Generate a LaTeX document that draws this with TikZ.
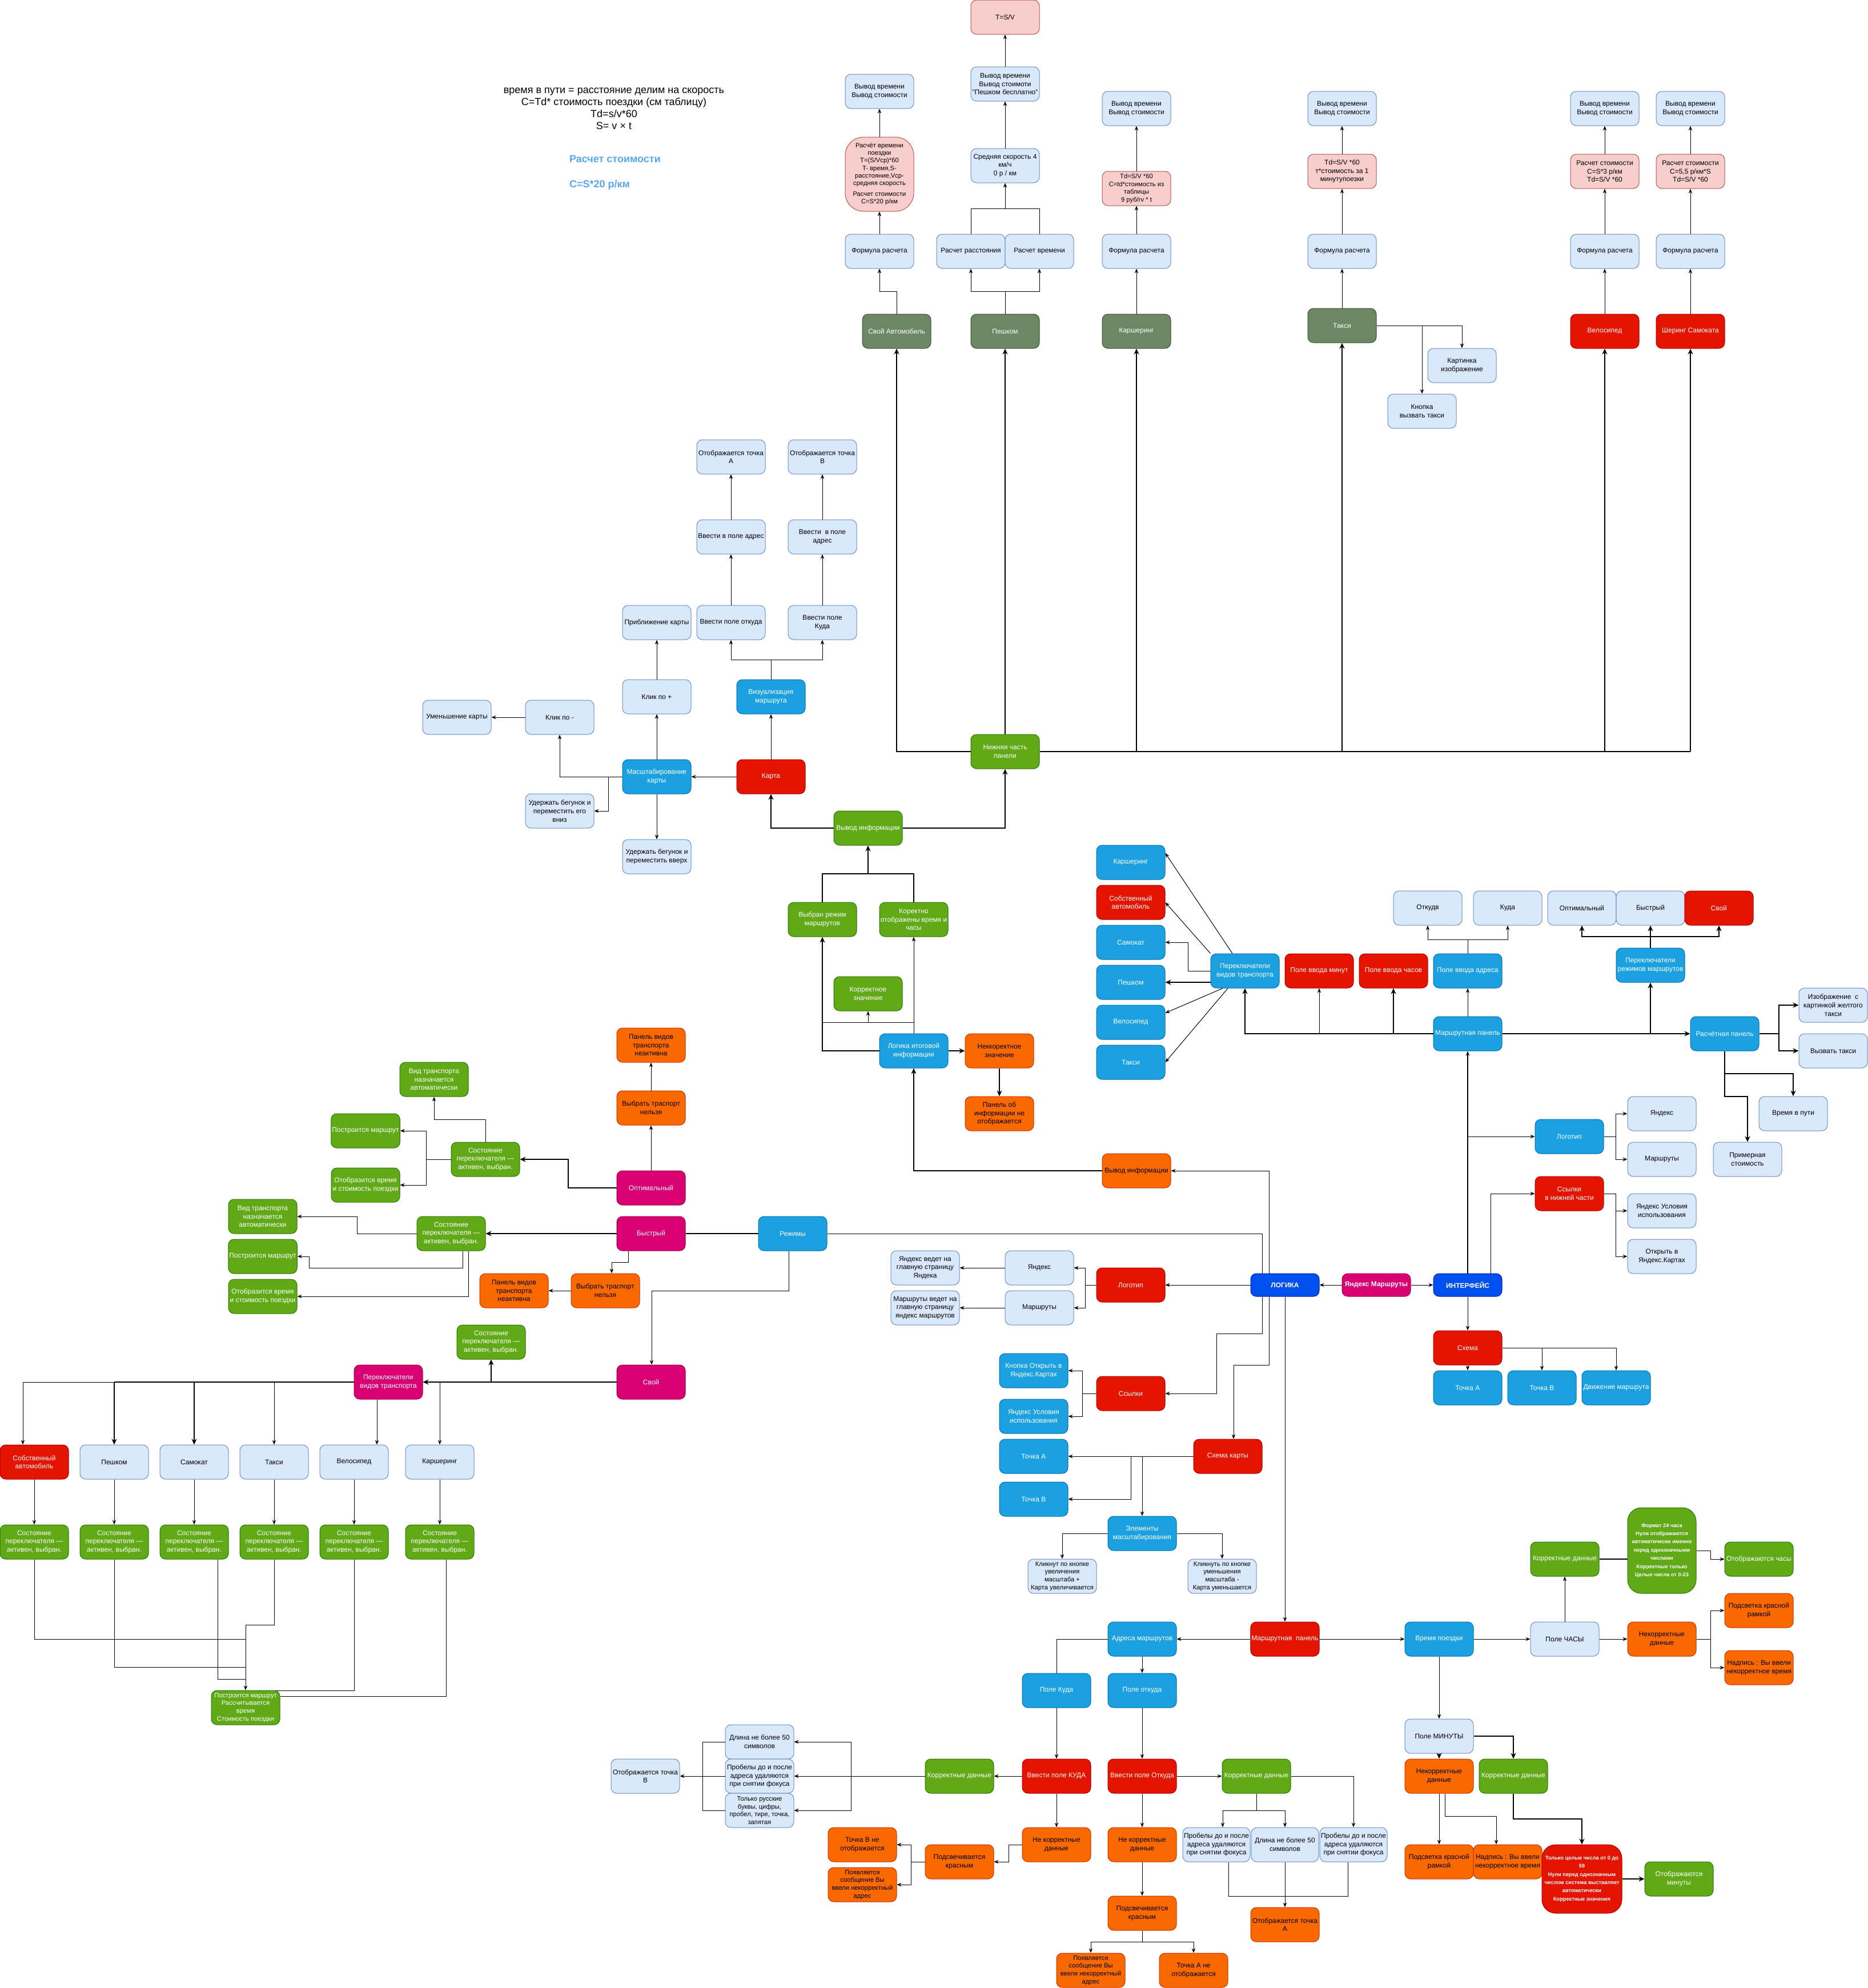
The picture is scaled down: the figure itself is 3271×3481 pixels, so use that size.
\documentclass[tikz,border=0pt]{standalone}
\usepackage{fontspec}
\setmainfont{Liberation Sans}
\usetikzlibrary{arrows.meta}
\definecolor{lbF}{HTML}{DAE8FC}\definecolor{lbD}{HTML}{6C8EBF}
\definecolor{pkF}{HTML}{F8CECC}\definecolor{pkD}{HTML}{B85450}
\definecolor{olF}{HTML}{6D8764}\definecolor{olD}{HTML}{3A5431}
\definecolor{rdF}{HTML}{E51400}\definecolor{rdD}{HTML}{B20000}
\definecolor{blF}{HTML}{1BA1E2}\definecolor{blD}{HTML}{006EAF}
\definecolor{grF}{HTML}{60A917}\definecolor{grD}{HTML}{2D7600}
\definecolor{orF}{HTML}{FA6800}\definecolor{orD}{HTML}{C73500}
\definecolor{mgF}{HTML}{D80073}\definecolor{mgD}{HTML}{A50040}
\definecolor{cbF}{HTML}{0050EF}\definecolor{cbD}{HTML}{001DBC}
\definecolor{txtBlue}{HTML}{5AA7F0}
\tikzset{
 bx/.style={rectangle, rounded corners=5pt, minimum width=60pt, minimum height=30pt, inner sep=0.8pt, align=center, font=\fontsize{6}{7.4}\selectfont, line width=0.5pt},
 sm/.style={font=\fontsize{5.6}{6.8}\selectfont},
 lb/.style={bx, fill=lbF, draw=lbD, text=black},
 pk/.style={bx, fill=pkF, draw=pkD, text=black},
 ol/.style={bx, fill=olF, draw=olD, text=white},
 rd/.style={bx, fill=rdF, draw=rdD, text=white},
 bl/.style={bx, fill=blF, draw=blD, text=white},
 gr/.style={bx, fill=grF, draw=grD, text=white},
 og/.style={bx, fill=orF, draw=orD, text=black},
 mg/.style={bx, fill=mgF, draw=mgD, text=white},
 cb/.style={bx, fill=cbF, draw=cbD, text=white, minimum height=20pt, font=\fontsize{6}{7.4}\selectfont\bfseries},
 ln/.style={draw=black, line width=0.5pt},
 ar/.style={ln, -{Stealth[length=4pt,width=3.2pt]}},
 tk/.style={draw=black, line width=1pt},
 tar/.style={tk, -{Stealth[length=5pt,width=4.5pt]}},
}
\begin{document}
\begin{tikzpicture}[x=0.5pt,y=-0.5pt]
\fill[white] (0,0) rectangle (3271,3481);
\useasboundingbox (0,0) rectangle (3271,3481);

% ---------- free text ----------
\node[align=center, font=\fontsize{9}{10.5}\selectfont] (note) at (1075,190) {время в пути = расстояние делим на скорость\\C=Td* стоимость поездки (см таблицу)\\Td=s/v*60\\S= v × t};
\node[anchor=west, text=txtBlue, font=\fontsize{9}{10}\selectfont\bfseries] (noteA) at (990,278) {Расчет стоимости};
\node[anchor=west, text=txtBlue, font=\fontsize{9}{10}\selectfont\bfseries] (noteB) at (990,324) {C=S*20 р/км};

% ---------- top transport columns ----------
\node[pk] (tsv) at (1760,30) {T=S/V};
\node[lb] (outWalk) at (1760,147) {Вывод времени\\Вывод стоимоти\\"Пешком бесплатно"};
\node[lb] (avg) at (1760,290) {Средняя скорость 4\\км/ч\\0 р / км};
\node[lb] (calcDist) at (1700,440) {Расчет расстояния};
\node[lb] (calcTime) at (1820,440) {Расчет времени};
\node[ol] (walk) at (1760,580) {Пешком};

\node[lb] (outCar) at (1540,160) {Вывод времени\\Вывод стоимости};
\node[pk, minimum height=65pt, rounded corners=16pt, font=\fontsize{5.6}{6.6}\selectfont] (calcCar) at (1540,305) {Расчёт времени\\поездки\\T=(S/Vср)*60\\T- время,S-\\расстояние,Vср-\\средняя скорость\\[3pt]Расчет стоимости\\C=S*20 р/км};
\node[lb] (fCar) at (1540,440) {Формула расчета};
\node[ol] (car) at (1570,580) {Свой Автомобиль};

\node[lb] (outKsh) at (1990,190) {Вывод времени\\Вывод стоимости};
\node[pk, sm] (calcKsh) at (1990,330) {Td=S/V *60\\C=td*стоимость из\\таблицы\\9 руб/rv * t};
\node[lb] (fKsh) at (1990,440) {Формула расчета};
\node[ol] (ksh) at (1990,580) {Каршеринг};

\node[lb] (outTaxi) at (2350,190) {Вывод времени\\Вывод стоимости};
\node[pk] (calcTaxi) at (2350,300) {Td=S/V *60\\т*стоимость за 1\\минутупоезки};
\node[lb] (fTaxi) at (2350,440) {Формула расчета};
\node[ol] (taxi) at (2350,570) {Такси};
\node[lb] (pic) at (2560,640) {Картинка\\изображение};
\node[lb] (btnTaxi) at (2490,720) {Кнопка\\вызвать такси};

\node[lb] (outBike) at (2810,190) {Вывод времени\\Вывод стоимости};
\node[pk] (calcBike) at (2810,300) {Расчет стоимости\\C=S*3 р/км\\Td=S/V *60};
\node[lb] (fBike) at (2810,440) {Формула расчета};
\node[rd] (bike) at (2810,580) {Велосипед};

\node[lb] (outSc) at (2960,190) {Вывод времени\\Вывод стоимости};
\node[pk] (calcSc) at (2960,300) {Расчет стоимости\\C=5,5 р/км*S\\Td=S/V *60};
\node[lb] (fSc) at (2960,440) {Формула расчета};
\node[rd] (sc) at (2960,580) {Шеринг Самоката};

% ---------- map ----------
\node[lb] (ptA) at (1280,800) {Отображается точка\\А};
\node[lb] (ptB) at (1440,800) {Отображается точка\\В};
\node[lb] (inA) at (1280,940) {Ввести в поле адрес};
\node[lb] (inB) at (1440,940) {Ввести \ в поле\\адрес};
\node[lb] (zoomIn) at (1150,1090) {Приближение карты};
\node[lb] (fromF) at (1280,1090) {Ввести поле откуда};
\node[lb] (toF) at (1440,1090) {Ввести поле\\Куда};
\node[lb] (clickPlus) at (1150,1220) {Клик по +};
\node[bl] (vis) at (1350,1220) {Визуализация\\маршрута};
\node[lb] (zoomOut) at (800,1256) {Уменьшение карты};
\node[lb] (clickMinus) at (980,1256) {Клик по -};
\node[bl] (scale) at (1150,1360) {Масштабирование\\карты};
\node[rd] (map) at (1350,1360) {Карта};
\node[lb] (holdDown) at (980,1420) {Удержать бегунок и\\переместить его\\вниз};
\node[lb] (holdUp) at (1150,1500) {Удержать бегунок и\\переместить вверх};
\node[gr] (bottomPanel) at (1760,1316) {Нижняя часть\\панели};
\node[gr] (infoOut) at (1520,1450) {Вывод информации};

% ---------- info logic ----------
\node[gr] (modeSel) at (1440,1610) {Выбран режим\\маршрутов};
\node[gr] (okTime) at (1600,1610) {Коректно\\отображены время и\\часы};
\node[gr] (okVal) at (1520,1740) {Корректное\\значение};
\node[bl] (logicInfo) at (1600,1840) {Логика итоговой\\информации};
\node[og] (badVal) at (1750,1840) {Неккоректное\\значение};
\node[og] (noPanel) at (1750,1950) {Панель об\\информации не\\отображается};
\node[og] (infoOut2) at (1990,2050) {Вывод информации};

% ---------- modes ----------
\node[og] (panelInact1) at (1140,1830) {Панель видов\\транспорта\\неактивна};
\node[og] (noChoose1) at (1140,1940) {Выбрать траспорт\\нельзя};
\node[mg] (opt) at (1140,2080) {Оптимальный};
\node[gr] (st1) at (850,2030) {Состояние\\переключателя —\\активен, выбран.};
\node[gr] (auto1) at (760,1890) {Вид транспорта\\назначается\\автоматически};
\node[gr] (route1) at (640,1980) {Построится маршрут};
\node[gr] (time1) at (640,2075) {Отобразится время\\и стоимость поездки};
\node[mg] (fast) at (1140,2160) {Быстрый};
\node[bl] (modes) at (1388,2160) {Режимы};
\node[gr] (st2) at (790,2160) {Состояние\\переключателя —\\активен, выбран.};
\node[gr] (auto2) at (460,2130) {Вид транспорта\\назначается\\автоматически};
\node[gr] (route2) at (460,2200) {Построится маршрут};
\node[gr] (time2) at (460,2270) {Отобразится время\\и стоимость поездки};
\node[og] (noChoose2) at (1060,2260) {Выбрать траспорт\\нельзя};
\node[og] (panelInact2) at (900,2260) {Панель видов\\транспорта\\неактивна};
\node[mg] (own) at (1140,2420) {Свой};
\node[gr] (st3) at (860,2350) {Состояние\\переключателя —\\активен, выбран.};
\node[mg] (sw) at (680,2420) {Переключатели\\видов транспорта};

\node[rd] (r1a) at (60,2560) {Собственный\\автомобиль};
\node[lb] (r1b) at (200,2560) {Пешком};
\node[lb] (r1c) at (340,2560) {Самокат};
\node[lb] (r1d) at (480,2560) {Такси};
\node[lb] (r1e) at (620,2560) {Велосипед};
\node[lb] (r1f) at (770,2560) {Каршеринг};
\node[gr] (r2a) at (60,2700) {Состояние\\переключателя —\\активен, выбран.};
\node[gr] (r2b) at (200,2700) {Состояние\\переключателя —\\активен, выбран.};
\node[gr] (r2c) at (340,2700) {Состояние\\переключателя —\\активен, выбран.};
\node[gr] (r2d) at (480,2700) {Состояние\\переключателя —\\активен, выбран.};
\node[gr] (r2e) at (620,2700) {Состояние\\переключателя —\\активен, выбран.};
\node[gr] (r2f) at (770,2700) {Состояние\\переключателя —\\активен, выбран.};
\node[gr, sm] (build) at (430,2990) {Построится маршрут\\Рассчитывается\\время\\Стоимость поездки};

% ---------- logic ----------
\node[cb] (logic) at (2250,2250) {ЛОГИКА};
\node[mg, minimum height=20pt, font=\fontsize{6}{7.4}\selectfont\bfseries] (ym) at (2410,2250) {Яндекс Маршруты};
\node[cb] (iface) at (2570,2250) {ИНТЕРФЕЙС};
\node[rd] (logo) at (1980,2250) {Логотип};
\node[lb] (yx) at (1820,2220) {Яндекс};
\node[lb] (mr) at (1820,2290) {Маршруты};
\node[lb] (yxTo) at (1620,2220) {Яндекс ведет на\\главную страницу\\Яндека};
\node[lb] (mrTo) at (1620,2290) {Маршруты ведет на\\главную страницу\\яндекс маршрутов};
\node[rd] (links) at (1980,2440) {Ссылки};
\node[bl] (openYM) at (1810,2400) {Кнопка Открыть в\\Яндекс.Картах};
\node[bl] (terms) at (1810,2480) {Яндекс Условия\\использования};
\node[bl] (ptA2) at (1810,2550) {Точка А};
\node[bl] (ptB2) at (1810,2625) {Точка В};
\node[rd] (mapScheme) at (2150,2550) {Схема карты};
\node[bl] (scaleEl) at (2000,2685) {Элементы\\масштабирования};
\node[lb, sm] (plus) at (1860,2760) {Кликнут по кнопке\\увеличения\\масштаба +\\Карта увеличивается};
\node[lb, sm] (minus) at (2140,2760) {Кликнуть по кнопке\\уменьшения\\масштаба -\\Карта уменьшается};
\node[rd] (scheme) at (2570,2360) {Схема};
\node[bl] (sA) at (2570,2430) {Точка А};
\node[bl] (sB) at (2700,2430) {Точка В};
\node[bl] (sMove) at (2830,2430) {Движение маршрута};

% ---------- interface ----------
\node[bl] (routePanel) at (2570,1810) {Маршрутная панель};
\node[bl] (calcPanel) at (3020,1810) {Расчётная панель};
\node[bl] (addrF) at (2570,1700) {Поле ввода адреса};
\node[rd] (hourF) at (2440,1700) {Поле ввода часов};
\node[rd] (minF) at (2310,1700) {Поле ввода минут};
\node[bl] (swT) at (2180,1700) {Переключатели\\видов транспорта};
\node[lb] (iFrom) at (2500,1590) {Откудв};
\node[lb] (iTo) at (2640,1590) {Куда};
\node[lb] (iOpt) at (2770,1590) {Оптимальный};
\node[lb] (iFast) at (2890,1590) {Быстрый};
\node[rd] (iOwn) at (3010,1590) {Свой};
\node[bl] (swM) at (2890,1690) {Переключатели\\режимов маршрутов};
\node[bl] (tKsh) at (1980,1510) {Каршеринг};
\node[rd] (tCar) at (1980,1580) {Собственный\\автомобиль};
\node[bl] (tSc) at (1980,1650) {Самокат};
\node[bl] (tWalk) at (1980,1720) {Пешком};
\node[bl] (tBike) at (1980,1790) {Велосипед};
\node[bl] (tTaxi) at (1980,1860) {Такси};
\node[lb] (yTaxi) at (3210,1760) {Изображение \ с\\картинкой желтого\\такси};
\node[lb] (callTaxi) at (3210,1840) {Вызвать такси};
\node[lb] (tripTime) at (3140,1950) {Время в пути};
\node[lb] (approx) at (3060,2030) {Примерная\\стоимость};
\node[bl] (iLogo) at (2748,1990) {Логотип};
\node[lb] (iYx) at (2910,1950) {Яндекс};
\node[lb] (iMr) at (2910,2030) {Маршруты};
\node[rd] (iLinks) at (2748,2090) {Ссылки\\в нижней части};
\node[lb] (iTerms) at (2910,2120) {Яндекс Условия\\использования};
\node[lb] (iOpen) at (2910,2200) {Открыть в\\Яндекс.Картах};

% ---------- route panel (bottom) ----------
\node[rd] (rp) at (2250,2870) {Маршрутная \ панель};
\node[bl] (addr) at (2000,2870) {Адреса маршрутов};
\node[bl] (fTo) at (1850,2960) {Поле Куда};
\node[bl] (fFrom) at (2000,2960) {Поле откуда};
\node[rd] (eTo) at (1850,3110) {Ввести поле КУДА};
\node[rd] (eFrom) at (2000,3110) {Ввести поле Откуда};
\node[gr] (okL) at (1680,3110) {Корректные данные};
\node[gr] (okR) at (2200,3110) {Корректные данные};
\node[lb] (len1) at (1330,3050) {Длина не более 50\\символов};
\node[lb] (sp1) at (1330,3110) {Пробелы до и после\\адреса удаляются\\при снятии фокуса};
\node[lb, sm] (rus) at (1330,3170) {Только русские\\буквы, цифры,\\пробел, тире, точка,\\запятая};
\node[lb] (showB) at (1130,3110) {Отображается точка\\В};
\node[og] (badL) at (1850,3230) {Не корректные\\данные};
\node[og] (badR) at (2000,3230) {Не корректные\\данные};
\node[og] (hlL) at (1680,3260) {Подсвечивается\\красным};
\node[og] (noB) at (1510,3230) {Точка В не\\отображается};
\node[og, sm] (msgL) at (1510,3300) {Появляется\\сообщение Вы\\ввели некорректный\\адрес};
\node[og] (hlC) at (2000,3350) {Подсвечивается\\красным};
\node[og, sm] (msgC) at (1910,3450) {Появляется\\сообщение Вы\\ввели некорректный\\адрес};
\node[og] (noA) at (2090,3450) {Точка А не\\отображается};
\node[lb, minimum width=59pt] (sp2) at (2130,3230) {Пробелы до и после\\адреса удаляются\\при снятии фокуса};
\node[lb, minimum width=59pt] (len2) at (2250,3230) {Длина не более 50\\символов};
\node[lb, minimum width=59pt] (sp3) at (2370,3230) {Пробелы до и после\\адреса удаляются\\при снятии фокуса};
\node[og] (showA) at (2250,3370) {Отображается точка\\А};

% ---------- trip time ----------
\node[bl] (tripT) at (2520,2870) {Время поездки};
\node[lb] (hoursF) at (2740,2870) {Поле ЧАСЫ};
\node[og] (badH) at (2910,2870) {Некорректные\\данные};
\node[og] (hlH) at (3080,2820) {Подсветка красной\\рамкой};
\node[og] (msgH) at (3080,2920) {Надпись : Вы ввели\\некорректное время};
\node[gr] (okH) at (2740,2730) {Корректные данные};
\node[gr, minimum height=75pt, rounded corners=12pt, font=\fontsize{4.6}{7.2}\selectfont\bfseries] (fmt) at (2910,2715) {Формат 24 часа\\Нули отображаются\\автоматически именно\\перед однозначными\\числами\\Корректные только\\Целые числа от 0-23};
\node[gr] (showH) at (3080,2730) {Отображаются часы};
\node[lb] (minF2) at (2520,3040) {Поле МИНУТЫ};
\node[og] (badM) at (2520,3110) {Некорректные\\данные};
\node[gr] (okM) at (2650,3110) {Корректные данные};
\node[og] (hlM) at (2520,3260) {Подсветка красной\\рамкой};
\node[og] (msgM) at (2640,3260) {Надпись : Вы ввели\\некорректное время};
\node[rd, minimum width=70pt, minimum height=60pt, rounded corners=12pt, font=\fontsize{4.6}{7.2}\selectfont\bfseries] (only) at (2770,3290) {Только целые числа от 0 до\\59\\Нули перед однозначным\\числом система выставляет\\автоматически\\Корректные значения};
\node[gr] (showM) at (2940,3290) {Отображаются\\минуты};

% ================= CONNECTORS =================
% top columns
\draw[ar] (car.north) -- (car.north |- 0,510) -| (fCar.south);
\draw[ar] (fCar) -- (calcCar);
\draw[ar] (calcCar) -- (outCar);
\draw[ar] (walk.north) -- (walk.north |- 0,510) -| (calcDist.south);
\draw[ar] (walk.north |- 0,510) -| (calcTime.south);
\draw[ln] (calcDist.north) -- (calcDist.north |- 0,365) -- (calcTime.north |- 0,365) -- (calcTime.north);
\draw[ar] (avg.south |- 0,365) -- (avg.south);
\draw[ar] (avg) -- (outWalk);
\draw[ar] (outWalk) -- (tsv);
\draw[ar] (ksh) -- (fKsh); \draw[ar] (fKsh) -- (calcKsh); \draw[ar] (calcKsh) -- (outKsh);
\draw[ar] (taxi) -- (fTaxi); \draw[ar] (fTaxi) -- (calcTaxi); \draw[ar] (calcTaxi) -- (outTaxi);
\draw[ar] (taxi.east) -| (pic.north);
\draw[ar] (taxi.east -| btnTaxi.north) -- (btnTaxi.north);
\draw[ar] (bike) -- (fBike); \draw[ar] (fBike) -- (calcBike); \draw[ar] (calcBike) -- (outBike);
\draw[ar] (sc) -- (fSc); \draw[ar] (fSc) -- (calcSc); \draw[ar] (calcSc) -- (outSc);

% bottom panel
\draw[tar] (bottomPanel.west) -| (car.south);
\draw[tar] (bottomPanel.north) -- (walk.south);
\draw[tk] (bottomPanel.east) -- (bottomPanel.east -| sc.south);
\draw[tar] (bottomPanel.east -| ksh.south) -- (ksh.south);
\draw[tar] (bottomPanel.east -| taxi.south) -- (taxi.south);
\draw[tar] (bottomPanel.east -| bike.south) -- (bike.south);
\draw[tar] (bottomPanel.east -| sc.south) -- (sc.south);

% map
\draw[ar] (map.west) -- (scale.east);
\draw[ar] (map.north) -- (vis.south);
\draw[ar] (vis.north) -- (vis.north |- 0,1155) -| (fromF.south);
\draw[ar] (vis.north |- 0,1155) -| (toF.south);
\draw[ar] (fromF) -- (inA); \draw[ar] (inA) -- (ptA);
\draw[ar] (toF) -- (inB); \draw[ar] (inB) -- (ptB);
\draw[ar] (scale) -- (clickPlus); \draw[ar] (clickPlus) -- (zoomIn);
\draw[ar] (scale) -- (holdUp);
\draw[ar] (clickMinus) -- (zoomOut);
\draw[ar] (scale.west) -| (clickMinus.south);
\draw[ar] (scale.west -| 1065,0) |- (holdDown.east);
\draw[tar] (infoOut.west) -| (map.south);
\draw[tar] (infoOut.east) -| (bottomPanel.south);
\draw[tar] (infoOut.south |- 0,1530) -- (infoOut.south);
\draw[tk] (modeSel.north) -- (modeSel.north |- 0,1530) -- (okTime.north |- 0,1530) -- (okTime.north);

% info logic
\draw[tar] (logicInfo.west) -| (modeSel.south);
\draw[ar] (logicInfo.north) -- (okTime.south);
\draw[ln] (modeSel.south |- 0,1790) -- (okTime.south |- 0,1790);
\draw[ar] (okVal.south |- 0,1790) -- (okVal.south);
\draw[tar] (logicInfo.east) -- (badVal.west);
\draw[tar] (badVal.south) -- (noPanel.north);
\draw[tar] (infoOut2.west) -| (logicInfo.south);
\draw[ar] (logic.north -| 2222,0) |- (infoOut2.east);
\draw[ln] (logic.north -| 2210,0) |- (modes.east);

% modes
\draw[ar] (opt) -- (noChoose1);
\draw[ar] (noChoose1) -- (panelInact1);
\draw[tar] (opt.west) -- (opt.west -| 995,0) |- (st1.east);
\draw[ar] (st1.north) -- (st1.north |- 0,1960) -| (auto1.south);
\draw[ar] (st1.west) -- (st1.west -| 746,0) |- (route1.east);
\draw[ar] (st1.west -| 746,0) |- (time1.east);
\draw[tk] (modes.west) -- (fast.east);
\draw[tar] (fast.west) -- (st2.east);
\draw[ar] (st2.west) -- (st2.west -| 625,0) |- (auto2.east);
\draw[ar] (st2.south -| 810,0) -- (810,2220) -- (541,2220) -- (541,2200) -- (route2.east);
\draw[ar] (st2.south -| 820,0) |- (time2.east);
\draw[ar] (fast.south -| 1100,0) -- (1100,2210) -- (1071,2210) -- (noChoose2.north -| 1071,0);
\draw[ar] (noChoose2) -- (panelInact2);
\draw[ar] (modes.south -| 1381,0) -- (1381,2260) -- (1141,2260) -- (own.north -| 1141,0);
\draw[tar] (own.west) -- (sw.east);
\draw[tar] (own.west -| st3.south) -- (st3.south);

% bottom-left switches
\draw[tk] (sw.west) -- (sw.west -| r1b.north);
\draw[ln] (sw.west -| r1b.north) -- (sw.west -| 40,0);
\draw[ar] (sw.west -| 40,0) -- (r1a.north -| 40,0);
\draw[tar] (sw.west -| r1b.north) -- (r1b.north);
\draw[tar] (sw.west -| r1c.north) -- (r1c.north);
\draw[ar] (sw.west -| r1d.north) -- (r1d.north);
\draw[ar] (sw.south -| 660,0) -- (r1e.north -| 660,0);
\draw[ar] (own.west -| r1f.north) -- (r1f.north);
\draw[ar] (r1a) -- (r2a); \draw[ar] (r1b) -- (r2b); \draw[ar] (r1c) -- (r2c);
\draw[ar] (r1d) -- (r2d); \draw[ar] (r1e) -- (r2e); \draw[ar] (r1f) -- (r2f);
\draw[ln] (r2a.south) |- (build.north |- 0,2870);
\draw[ln] (r2b.south) |- (build.north |- 0,2919);
\draw[ln] (r2c.south -| 381,0) |- (build.north |- 0,2940);
\draw[ln] (r2d.south) |- (build.north |- 0,2845);
\draw[ar] (build.north |- 0,2845) -- (build.north);
\draw[ln] (r2e.south) |- (482,2960);
\draw[ln] (r2f.south -| 781,0) |- (build.east |- 0,2970);

% logic
\draw[ar] (ym.west) -- (logic.east);
\draw[ar] (ym.east) -- (iface.west);
\draw[ar] (logic.west) -- (logo.east);
\draw[ar] (logo.west) -- (logo.west -| 1900,0) |- (yx.east);
\draw[ar] (logo.west -| 1900,0) |- (mr.east);
\draw[ar] (yx) -- (yxTo);
\draw[ar] (mr) -- (mrTo);
\draw[ar] (logic.south -| 2210,0) -- (2210,2335) -- (2130,2335) |- (links.east);
\draw[ar] (logic.south -| 2222,0) -- (2222,2390) -- (2160,2390) -- (mapScheme.north -| 2160,0);
\draw[ar] (logic.south) -- (rp.north);
\draw[ar] (links.west) -- (links.west -| 1895,0) |- (openYM.east);
\draw[ar] (links.west -| 1895,0) |- (terms.east);
\draw[ar] (mapScheme.west) -- (ptA2.east);
\draw[ar] (mapScheme.west -| 1980,0) |- (ptB2.east);
\draw[ar] (mapScheme.west -| 2000,0) -- (scaleEl.north);
\draw[ar] (scaleEl.west) -| (plus.north);
\draw[ar] (scaleEl.east) -| (minus.north);

% interface
\draw[ar] (iface.south) -- (scheme.north);
\draw[ar] (scheme.south) -- (sA.north);
\draw[ar] (scheme.east) -| (sMove.north);
\draw[ar] (scheme.east -| sB.north) -- (sB.north);
\draw[ar, line width=0.75pt] (iface.north) -- (routePanel.south);
\draw[ar] (iface.north |- iLogo.west) -- (iLogo.west);
\draw[ar] (iface.north -| 2610,0) |- (iLinks.west);
\draw[ar] (iLogo.east) -- (iLogo.east -| 2829,0) |- (iYx.west);
\draw[ar] (iLogo.east -| 2829,0) |- (iMr.west);
\draw[ar] (iLinks.east) -- (iLinks.east -| 2829,0) |- (iTerms.west);
\draw[ar] (iLinks.east -| 2829,0) |- (iOpen.west);
\draw[tar] (routePanel.west) -| (swT.south);
\draw[ar] (routePanel.west -| minF.south) -- (minF.south);
\draw[tar] (routePanel.west -| hourF.south) -- (hourF.south);
\draw[ar] (routePanel.north) -- (addrF.south);
\draw[ar] (addrF.north) -- (addrF.north |- 0,1645) -| (iFrom.south);
\draw[ar] (addrF.north |- 0,1645) -| (iTo.south);
\draw[tar] (routePanel.east) -- (calcPanel.west);
\draw[tar] (routePanel.east -| swM.south) -- (swM.south);
\draw[tar] (swM.north) -- (iFast.south);
\draw[tar] (swM.north |- 0,1640) -| (iOpt.south);
\draw[tar] (swM.north |- 0,1640) -| (iOwn.south);
\draw[tar] (calcPanel.east) -- (calcPanel.east -| 3115,0) |- (yTaxi.west);
\draw[tar] (calcPanel.east -| 3115,0) |- (callTaxi.west);
\draw[tar] (calcPanel.south) -- (calcPanel.south |- 0,1880) -| (tripTime.north);
\draw[tar] (calcPanel.south |- 0,1880) -- (calcPanel.south |- 0,1920) -| (approx.north);
\draw[ar] (swT.north -| 2158,0) -- (tKsh.15);
\draw[ar] (swT.north west) -- (tCar.east);
\draw[ar] (swT.west) -- (swT.west -| 2080,0) |- (tSc.east);
\draw[tar] (swT.west |- tWalk.east) -- (tWalk.east);
\draw[ar] (swT.south -| 2141,0) -- (tBike.15);
\draw[ar] (swT.south -| 2150,0) -- (tTaxi.east);

% route panel bottom
\draw[ar] (rp.west) -- (addr.east);
\draw[ar] (rp.east) -- (tripT.west);
\draw[ln] (addr.west) -| (fTo.north);
\draw[ar] (addr.south) -- (fFrom.north);
\draw[ar] (fTo) -- (eTo);
\draw[ar] (fFrom) -- (eFrom);
\draw[ar] (eTo.west) -- (okL.east);
\draw[ar] (eFrom.east) -- (okR.west);
\draw[ar] (okL.west) -- (sp1.east);
\draw[ar] (okL.west -| 1490,0) |- (len1.east);
\draw[ar] (okL.west -| 1490,0) |- (rus.east);
\draw[ln] (len1.west) -- (len1.west -| 1230,0) -- (rus.west -| 1230,0) -- (rus.west);
\draw[ar] (sp1.west) -- (showB.east);
\draw[ar] (eTo) -- (badL);
\draw[ar] (eFrom) -- (badR);
\draw[ar] (badL.west) -- (badL.west -| 1766,0) |- (hlL.east);
\draw[ar] (hlL.west) -- (hlL.west -| 1595,0) |- (noB.east);
\draw[ar] (hlL.west -| 1595,0) |- (msgL.east);
\draw[ar] (badR) -- (hlC);
\draw[ar] (hlC.south) -- (hlC.south |- 0,3400) -| (msgC.north);
\draw[ar] (hlC.south |- 0,3400) -| (noA.north);
\draw[ar] (okR.south) -- (okR.south |- 0,3170) -- (2141,3170) -- (sp2.north -| 2141,0);
\draw[ar] (okR.south |- 0,3170) -| (len2.north);
\draw[ar] (okR.east) -| (sp3.north);
\draw[ln] (sp2.south -| 2151,0) -- (2151,3320) -- (2360,3320) -- (sp3.south -| 2360,0);
\draw[ar] (len2) -- (showA);

% trip time
\draw[ar] (tripT.east) -- (hoursF.west);
\draw[ar] (hoursF.east) -- (badH.west);
\draw[ar] (hoursF.north) -- (okH.south);
\draw[tk] (okH.east) -- (okH.east -| fmt.west);
\draw[ar] (fmt.east) -- (fmt.east -| 2995,0) |- (showH.west);
\draw[ar] (badH.east) -- (badH.east -| 2995,0) |- (hlH.west);
\draw[ar] (badH.east -| 2995,0) |- (msgH.west);
\draw[ar] (tripT.south) -- (minF2.north);
\draw[tar] (minF2.south) -- (badM.north);
\draw[tar] (minF2.east) -| (okM.north);
\draw[ar] (badM.south) -- (hlM.north);
\draw[ar] (badM.south -| 2530,0) -- (2530,3180) -- (2620,3180) -- (msgM.north -| 2620,0);
\draw[tar] (okM.south) -- (okM.south |- 0,3185) -| (only.north);
\draw[tar] (only.east) -- (showM.west);
\end{tikzpicture}
\end{document}
